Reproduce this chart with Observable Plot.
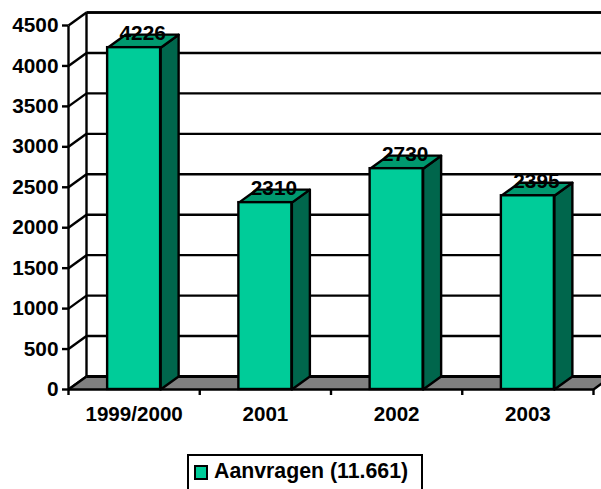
<!DOCTYPE html>
<html>
<head>
<meta charset="utf-8">
<script src="https://cdn.jsdelivr.net/npm/d3@7"></script>
<script src="https://cdn.jsdelivr.net/npm/@observablehq/plot@0.6"></script>
<style>
html,body{margin:0;padding:0;width:601px;height:489px;overflow:hidden;background:#fff;}
#chart{position:absolute;left:0;top:0;}
#legend{position:absolute;left:187px;top:454px;width:232px;height:50px;border:2px solid #000;box-sizing:content-box;background:#fff;
font:bold 21.3px "Liberation Sans",Arial,sans-serif;color:#000;}
#legend i{position:absolute;left:5px;top:9px;width:10px;height:11px;background:#00CC99;border:2px solid #000;}
#legend span{position:absolute;left:25px;top:3px;white-space:nowrap;}
</style>
</head>
<body>
<div id="chart"></div>
<div id="legend"><i></i><span id="legendText"></span></div>
<script>
const categories = ["1999/2000", "2001", "2002", "2003"];
const values = [4226, 2310, 2730, 2395];
const yTicks = [0, 500, 1000, 1500, 2000, 2500, 3000, 3500, 4000, 4500];
const legendLabel = "Aanvragen (11.661)";

const front = "#00CC99", side = "#00664C", top_ = "#00996F", floor = "#808080";
const yMax = 4500;
const xMax = categories.length;
// 3D depth and bar width, in scale units
const dX = 18 / 131.25, dY = 13 / (364 / 4500), half = 26.5 / 131.25;

const rows = categories.map((c, i) => ({c, i, v: values[i], x1: i + 0.5 - half, x2: i + 0.5 + half}));
const sides = rows.flatMap(r => [
  {k: r.c, x: r.x2, y: 0}, {k: r.c, x: r.x2 + dX, y: dY},
  {k: r.c, x: r.x2 + dX, y: r.v + dY}, {k: r.c, x: r.x2, y: r.v}
]);
const tops = rows.flatMap(r => [
  {k: r.c, x: r.x1, y: r.v}, {k: r.c, x: r.x2, y: r.v},
  {k: r.c, x: r.x2 + dX, y: r.v + dY}, {k: r.c, x: r.x1 + dX, y: r.v + dY}
]);
const floorPoly = [
  {x: 0, y: 0}, {x: dX, y: dY}, {x: xMax + dX, y: dY}, {x: xMax, y: 0}
];
const sw = 2.4;

const plot = Plot.plot({
  width: 601,
  height: 450,
  marginLeft: 68,
  marginRight: 8,
  marginTop: 25,
  marginBottom: 61,
  style: {background: "transparent", fontFamily: "'Liberation Sans',Arial,sans-serif", overflow: "hidden"},
  x: {type: "linear", domain: [0, xMax], range: [68, 593]},
  y: {type: "linear", domain: [0, yMax], range: [389, 25]},
  marks: [
    // back wall gridlines
    Plot.link(yTicks, {x1: dX, x2: xMax + dX, y1: d => d + dY, y2: d => d + dY, stroke: "#000", strokeWidth: sw}),
    // top frame
    Plot.link([yMax], {x1: dX, x2: xMax + dX, y1: d => d + dY, y2: d => d + dY, stroke: "#000", strokeWidth: sw + 0.3}),
    // side wall connectors
    Plot.link(yTicks, {x1: 0, x2: dX, y1: d => d, y2: d => d + dY, stroke: "#000", strokeWidth: sw}),
    // back vertical
    Plot.link([0], {x1: dX, x2: dX, y1: dY, y2: yMax + dY, stroke: "#000", strokeWidth: sw}),
    // floor
    Plot.line(floorPoly, {x: "x", y: "y", curve: "linear-closed", fill: floor, stroke: "none"}),
    Plot.link([0], {x1: dX, x2: xMax + dX, y1: dY, y2: dY, stroke: "#000", strokeWidth: sw + 0.6}),
    Plot.link([0, xMax], {x1: d => d, x2: d => d + dX, y1: 0, y2: dY, stroke: "#000", strokeWidth: sw}),
    // bars
    Plot.line(sides, {x: "x", y: "y", z: "k", curve: "linear-closed", fill: side, stroke: "#000", strokeWidth: sw}),
    Plot.line(tops, {x: "x", y: "y", z: "k", curve: "linear-closed", fill: top_, stroke: "#000", strokeWidth: sw}),
    Plot.rect(rows, {x1: "x1", x2: "x2", y1: 0, y2: "v", fill: front, stroke: "#000", strokeWidth: sw}),
    // axes
    Plot.axisY({ticks: yTicks, anchor: "left", tickSize: 6, tickPadding: 4, label: null, tickFormat: d => String(d),
      fontSize: 20.8, fontWeight: "bold", fill: "#000", stroke: "#000", strokeWidth: sw, strokeOpacity: 1}),
    Plot.link([0], {x1: 0, x2: 0, y1: 0, y2: yMax, stroke: "#000", strokeWidth: sw}),
    Plot.link([0], {x1: 0, x2: xMax, y1: 0, y2: 0, stroke: "#000", strokeWidth: sw}),
    Plot.axisX({ticks: d3.range(xMax + 1), anchor: "bottom", tickSize: 6, tickFormat: () => "", label: null,
      stroke: "#000", strokeWidth: sw, strokeOpacity: 1}),
    Plot.text(rows, {x: d => d.i + 0.5, y: 0, text: "c", dy: 25, fontSize: 20.6, fontWeight: "bold", fill: "#000"}),
    // value labels
    Plot.text(rows, {x: d => d.i + 0.5, y: "v", text: d => String(d.v), dx: 8.5, dy: -14, fontSize: 20.8, fontWeight: "bold", fill: "#000"})
  ]
});
document.getElementById("chart").appendChild(plot);
document.getElementById("legendText").textContent = legendLabel;
</script>
</body>
</html>
